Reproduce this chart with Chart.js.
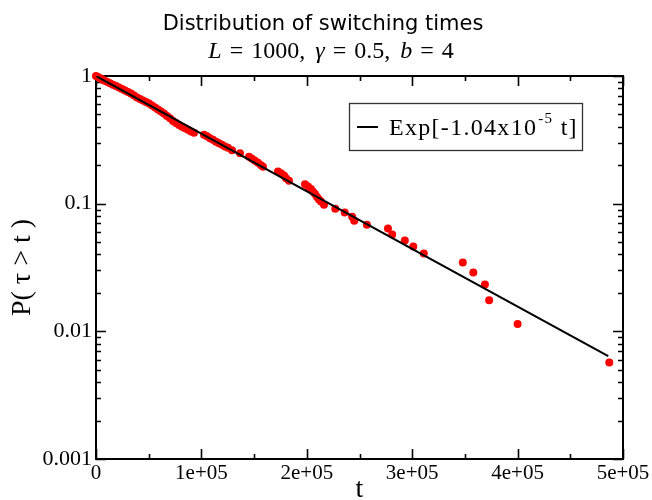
<!DOCTYPE html>
<html>
<head>
<meta charset="utf-8">
<script src="https://cdn.jsdelivr.net/npm/chart.js@4/dist/chart.umd.min.js"></script>
<style>
  html, body { margin: 0; padding: 0; background: #fff; }
  #wrap { width: 652px; height: 500px; }
</style>
</head>
<body>
<div id="wrap"><canvas id="c" width="652" height="500"></canvas></div>
<script>
// ---- data ----
const tValues = [
  0, 1898, 3795, 5693, 7590, 10437, 13283, 16130, 18976, 21822,
  24669, 27515, 30362, 33208, 36054, 38901, 41747, 44594, 47440, 50286,
  53133, 55979, 58826, 61672, 64518, 67365, 70211, 73058, 75904, 78750,
  81597, 84443, 87290, 90136, 92982, 102470, 105317, 108163, 111010, 113856,
  116702, 119549, 122395, 125242, 129037, 136627, 145166, 148013, 150859, 153706,
  156552, 158450, 172682, 175528, 178374, 180272, 183118, 198299, 201146, 203992,
  205890, 207787, 209685, 211582, 213480, 216326,
  227000, 236000, 243000, 245000, 257000, 277000, 281000, 293000, 301000, 311000,
  348000, 358000, 369000, 373000, 400000, 487000
];
const pValues = [
  1.000, 0.982, 0.961, 0.942, 0.924, 0.901, 0.878, 0.853, 0.835, 0.813,
  0.791, 0.770, 0.750, 0.730, 0.704, 0.679, 0.661, 0.643, 0.626, 0.610,
  0.588, 0.567, 0.547, 0.528, 0.509, 0.487, 0.466, 0.445, 0.429, 0.414,
  0.400, 0.389, 0.379, 0.368, 0.359, 0.346, 0.337, 0.325, 0.316, 0.305,
  0.297, 0.289, 0.281, 0.274, 0.262, 0.248, 0.233, 0.225, 0.217, 0.209,
  0.200, 0.195, 0.179, 0.173, 0.166, 0.158, 0.151, 0.142, 0.136, 0.130,
  0.124, 0.119, 0.113, 0.108, 0.104, 0.0982,
  0.0914, 0.0851, 0.0791, 0.0736, 0.0685, 0.0638, 0.0573, 0.0514, 0.0461, 0.0407,
  0.0346, 0.0289, 0.0233, 0.0175, 0.0114, 0.0057
];
const fitT = [0, 486000];
const fitP = [1.0, 0.0064];

const xTickValues = [0, 100000, 200000, 300000, 400000, 500000];
const xTickLabels = ['0', '1e+05', '2e+05', '3e+05', '4e+05', '5e+05'];
const yTickValues = [0.001, 0.01, 0.1, 1];
const yTickLabels = ['0.001', '0.01', '0.1', '1'];

const titleText = 'Distribution of switching times';
const legendText = 'Exp[-1.04x10';
const legendSup = '-5';
const legendTail = ' t]';
const xTitle = 't';
const yTitle = 'P( \u03C4 > t )';

// ---- build ----
const scatterData = tValues.map((t, i) => ({ x: t, y: pValues[i] }));
const fitData = fitT.map((t, i) => ({ x: t, y: fitP[i] }));

const SERIF = '"Liberation Serif", "DejaVu Serif", serif';

const framePlugin = {
  id: 'frame',
  beforeDatasetsDraw(chart) {
    const { ctx, chartArea: a, scales } = chart;
    const xs = scales.x, ys = scales.y;
    ctx.save();
    ctx.strokeStyle = '#000';
    ctx.lineWidth = 1.6;
    ctx.beginPath();
    for (let v = xs.min; v <= xs.max + 1; v += 50000) {
      const px = Math.round(xs.getPixelForValue(v)) + 0.5;
      const major = (v % 100000) === 0;
      const len = major ? 10 : 5;
      ctx.moveTo(px, a.bottom); ctx.lineTo(px, a.bottom - len);
      ctx.moveTo(px, a.top); ctx.lineTo(px, a.top + len);
    }
    for (let d = 0.001; d < 1.5; d *= 10) {
      for (let m = 1; m <= 9; m++) {
        const v = d * m;
        if (v > ys.max * 1.0001) break;
        const py = Math.round(ys.getPixelForValue(v)) + 0.5;
        const len = m === 1 ? 10 : 5;
        ctx.moveTo(a.left, py); ctx.lineTo(a.left + len, py);
        ctx.moveTo(a.right, py); ctx.lineTo(a.right - len, py);
      }
    }
    ctx.stroke();
    ctx.lineWidth = 2;
    ctx.strokeRect(a.left, a.top, a.right - a.left, a.bottom - a.top);
    ctx.restore();
  },
  afterDraw(chart) {
    const { ctx } = chart;
    ctx.save();
    ctx.fillStyle = '#000';
    ctx.textBaseline = 'alphabetic';
    // title
    ctx.font = '21px "DejaVu Sans", sans-serif';
    ctx.textAlign = 'center';
    ctx.fillText(titleText, 323, 30);
    // subtitle, math style: italic letters, upright numbers, spaced relations
    const parts = [
      ['L', true, 8], ['=', false, 8], ['1000,', false, 10], ['\u03B3', true, 8], ['=', false, 8],
      ['0.5,', false, 10], ['b', true, 8], ['=', false, 8], ['4', false, 0]
    ];
    const fi = 'italic 24px ' + SERIF, fu = '24px ' + SERIF;
    let w = 0;
    parts.forEach(p => { ctx.font = p[1] ? fi : fu; w += ctx.measureText(p[0]).width + p[2]; });
    let x = 331 - w / 2;
    ctx.textAlign = 'left';
    parts.forEach(p => { ctx.font = p[1] ? fi : fu; ctx.fillText(p[0], x, 58); x += ctx.measureText(p[0]).width + p[2]; });

    // legend box
    const bx = 349, by = 103, bw = 233, bh = 47;
    ctx.fillStyle = '#fff';
    ctx.fillRect(bx, by, bw, bh);
    ctx.strokeStyle = '#333';
    ctx.lineWidth = 1.3;
    ctx.strokeRect(bx + 0.5, by + 0.5, bw, bh);
    ctx.strokeStyle = '#000';
    ctx.lineWidth = 2;
    ctx.beginPath();
    ctx.moveTo(357, 127); ctx.lineTo(378, 127);
    ctx.stroke();
    ctx.fillStyle = '#000';
    ctx.letterSpacing = '1.3px';
    ctx.font = '24px ' + SERIF;
    let lx = 389;
    ctx.fillText(legendText, lx, 135);
    lx += ctx.measureText(legendText).width;
    ctx.font = '15px ' + SERIF;
    ctx.fillText(legendSup, lx + 1, 123);
    lx += ctx.measureText(legendSup).width + 1;
    ctx.font = '24px ' + SERIF;
    ctx.fillText(legendTail, lx, 135);
    ctx.restore();
  }
};

new Chart(document.getElementById('c'), {
  type: 'scatter',
  data: {
    datasets: [
      {
        type: 'line',
        label: 'fit',
        data: fitData,
        borderColor: '#000',
        borderWidth: 2,
        pointRadius: 0,
        fill: false,
        order: 0
      },
      {
        label: 'data',
        data: scatterData,
        backgroundColor: '#ff0000',
        borderWidth: 0,
        pointRadius: 4,
        clip: false,
        order: 1
      }
    ]
  },
  options: {
    responsive: false,
    animation: false,
    events: [],
    layout: { padding: { top: 76, right: 29, left: 0, bottom: 0 } },
    plugins: {
      legend: { display: false },
      title: { display: false },
      tooltip: { enabled: false }
    },
    scales: {
      x: {
        type: 'linear',
        min: 0,
        max: 500000,
        afterBuildTicks: s => { s.ticks = xTickValues.map(v => ({ value: v })); },
        afterFit: s => { s.height = 41; },
        grid: { display: false, drawTicks: false },
        border: { display: false },
        ticks: {
          maxRotation: 0,
          autoSkip: false,
          padding: 2,
          color: '#000',
          font: { family: SERIF, size: 21 },
          callback: (v) => { const i = xTickValues.indexOf(v); return i >= 0 ? xTickLabels[i] : ''; }
        },
        title: {
          display: true,
          text: xTitle,
          color: '#000',
          font: { family: SERIF, size: 28 },
          padding: { top: 0, bottom: -6 }
        }
      },
      y: {
        type: 'logarithmic',
        min: 0.001,
        max: 1,
        afterBuildTicks: s => { s.ticks = yTickValues.map(v => ({ value: v })); },
        afterFit: s => { s.width = 96; },
        grid: { display: false, drawTicks: false },
        border: { display: false },
        ticks: {
          autoSkip: false,
          padding: 4,
          color: '#000',
          font: { family: SERIF, size: 22 },
          callback: (v) => { const i = yTickValues.findIndex(t => Math.abs(t - v) / t < 1e-6); return i >= 0 ? yTickLabels[i] : ''; }
        },
        title: {
          display: true,
          text: yTitle,
          color: '#000',
          font: { family: SERIF, size: 28 },
          padding: { top: 6, bottom: 0 }
        }
      }
    }
  },
  plugins: [framePlugin]
});
</script>
</body>
</html>
